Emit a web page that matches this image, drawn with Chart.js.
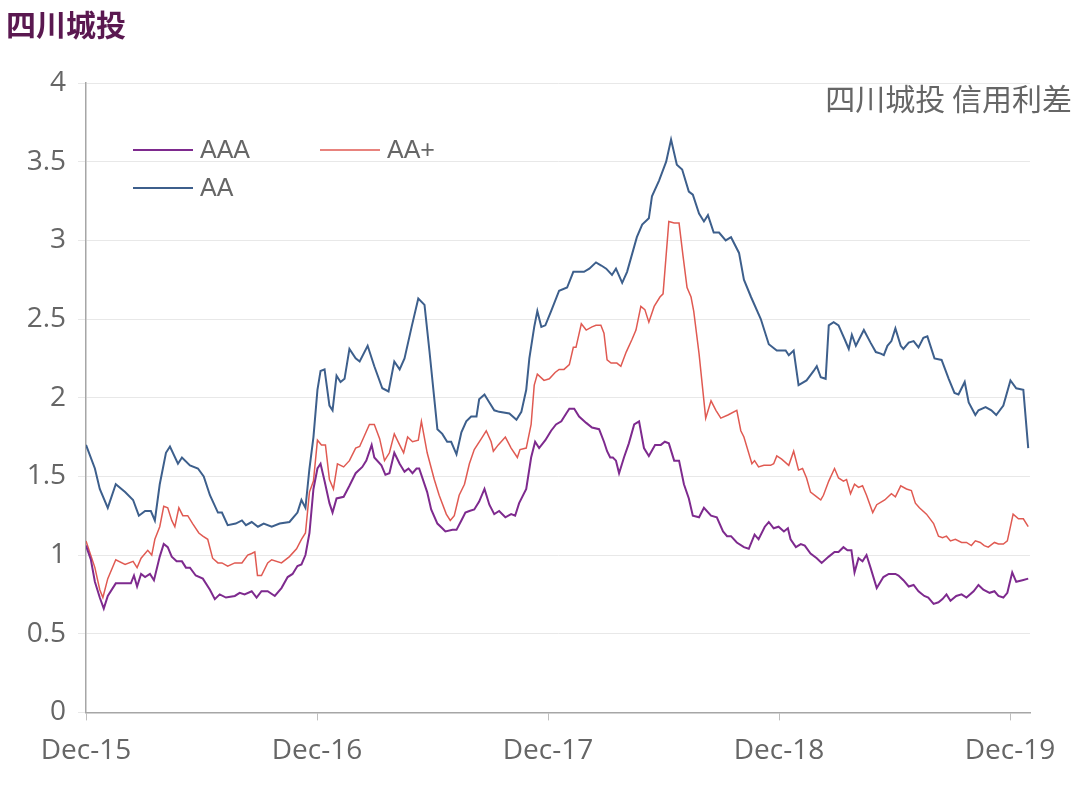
<!DOCTYPE html>
<html><head><meta charset="utf-8">
<script src="https://cdn.jsdelivr.net/npm/chart.js@4"></script>
<style>
body{margin:0;background:#fff;width:1080px;height:790px;overflow:hidden;font-family:"Noto Sans CJK SC","Noto Sans",sans-serif}
#t{position:absolute;left:6px;top:1px;font-size:30px;font-weight:bold;color:#5a1850}
#wrap{position:absolute;left:0;top:0;width:1080px;height:790px}
</style></head><body>
<div id="wrap"><canvas id="c" width="1080" height="790"></canvas></div>
<div id="t">四川城投</div>
<script>
const xTickWeeks=[0,52,104,156,208];
const xTickLabels=["Dec-15","Dec-16","Dec-17","Dec-18","Dec-19"];
const seriesNames=["AAA","AA+","AA"];
const aaaWeeks=[0,1.1,2,3.1,4,4.9,6.7,8.8,10.1,10.8,11.5,12.4,13.3,14.4,15.3,16.6,17.5,18.4,19.3,20.4,21.6,22.5,23.4,24.7,26.3,27.9,29,30.1,31.5,33.5,34.6,35.7,37.3,38.4,39.5,40.9,42.5,44,45.4,46.5,47.6,48.5,49.4,50.3,51.2,52.1,52.8,53.7,54.8,55.5,56.4,58,59.3,60.7,62.2,63.1,64.3,64.9,66.5,67.4,68.3,69.4,70.6,71.7,72.6,73.5,74.4,75,76.8,77.7,79.1,80.2,80.9,82.5,83.4,84.5,85.4,86.3,87.4,88.5,89.7,90.8,91.9,93,94.4,95.7,96.6,97.5,99.1,100.2,101.1,102,103.4,104.7,105.8,107,108.1,108.8,109.9,111,112.6,113.9,115.5,116.6,117.3,118,118.6,119.3,120,121.1,122.2,123.4,124.5,125.6,126.7,128.1,129.4,130.3,131.2,132.4,133.5,134.6,135.7,136.6,138,139.1,140.7,142,143.4,144.3,145.2,146.5,148.1,149.2,150.5,151.4,152.8,153.7,154.8,155.9,157.1,158,158.6,159.8,160.9,161.8,163.1,164.5,165.6,167.2,168.5,169.4,170.5,171.4,172.3,173,173.9,174.8,175.7,176.6,178,179.5,180.7,182.2,182.9,184,185.2,186.3,187.4,188.7,189.6,190.8,191.9,192.8,193.7,194.6,195.9,197.1,198.2,199.8,200.9,202,203.4,204.5,205.4,206.5,207.4,208.5,209.4,210.8,212.1];
const aaaValues=[1.06,0.97,0.83,0.73,0.66,0.74,0.82,0.82,0.82,0.87,0.80,0.88,0.86,0.88,0.84,0.99,1.07,1.05,0.99,0.96,0.96,0.92,0.92,0.87,0.85,0.78,0.72,0.75,0.73,0.74,0.76,0.75,0.77,0.73,0.77,0.77,0.74,0.79,0.86,0.88,0.93,0.94,1.00,1.14,1.42,1.55,1.58,1.47,1.33,1.27,1.36,1.37,1.44,1.52,1.56,1.60,1.70,1.62,1.57,1.51,1.52,1.65,1.58,1.53,1.55,1.52,1.55,1.55,1.40,1.29,1.20,1.17,1.15,1.16,1.16,1.22,1.27,1.28,1.29,1.34,1.42,1.32,1.26,1.28,1.24,1.26,1.25,1.33,1.42,1.62,1.72,1.68,1.73,1.79,1.83,1.85,1.90,1.93,1.93,1.88,1.84,1.81,1.80,1.72,1.66,1.62,1.62,1.60,1.52,1.62,1.71,1.83,1.85,1.68,1.63,1.70,1.70,1.72,1.71,1.60,1.60,1.45,1.36,1.25,1.24,1.30,1.25,1.24,1.15,1.12,1.12,1.08,1.05,1.04,1.13,1.10,1.18,1.21,1.17,1.18,1.15,1.17,1.10,1.05,1.07,1.06,1.01,0.98,0.95,0.99,1.02,1.02,1.05,1.03,1.03,0.89,0.98,0.96,1.00,0.92,0.79,0.86,0.88,0.88,0.87,0.84,0.80,0.81,0.77,0.74,0.73,0.69,0.70,0.72,0.75,0.71,0.74,0.75,0.73,0.77,0.81,0.78,0.76,0.77,0.74,0.73,0.76,0.89,0.83,0.84,0.85];
const aapWeeks=[0,2,3.1,3.8,4.9,6.7,8.8,10.6,11.5,12.4,13.9,14.8,15.5,16.6,17.5,18.4,19.3,20,20.9,21.8,22.9,24,25.4,26.3,27.4,28.5,29.7,30.6,31.9,33.5,35.1,36.4,37.3,38,38.6,39.5,40.9,41.8,44,45.8,47.4,48.5,49.4,50.3,51.2,52.1,53,53.9,54.8,55.7,56.6,58,59.3,60.7,61.6,62.7,63.8,64.9,66.1,67.2,68.3,69.4,70.6,71.5,72.4,73.5,74.8,75.5,76.8,78.4,79.5,81.1,82,82.9,84,85.2,86.3,87.4,89,90.1,91.2,91.7,92.8,94.4,95.7,97.1,97.7,99.1,100.2,100.9,101.6,103.1,104.3,105.6,106.5,107.6,108.8,109.7,110.3,111.5,112.6,113.9,114.8,115.9,116.6,117.3,118.2,119.5,120.4,121.6,122.9,123.8,124.9,125.8,126.7,127.9,129.2,129.9,131.2,132.4,133.5,134.4,135.3,136.2,136.8,138,139.5,140.7,141.8,142.9,144.5,146.5,147.4,148.1,149.9,150.5,151.4,152.6,154.1,154.8,155.5,156.6,158.2,159.3,160.4,161.3,162.2,163.1,164.5,165.4,166,167.2,168.5,169.4,170.5,171.2,172.1,173,173.9,174.8,175.7,177.1,178,179.8,181.3,182.2,183.4,184.7,185.8,186.7,187.6,189.2,190.8,191.9,192.8,193.7,194.6,195.7,197.1,198.2,199.3,200.2,201.3,202.2,203.1,204.5,205.4,206.5,207.4,208.7,209.9,211,212.1];
const aapValues=[1.09,0.92,0.78,0.73,0.85,0.97,0.94,0.96,0.92,0.98,1.03,1.00,1.10,1.18,1.31,1.30,1.22,1.18,1.30,1.25,1.25,1.20,1.14,1.12,1.10,0.98,0.95,0.95,0.93,0.95,0.95,1.00,1.01,1.02,0.87,0.87,0.95,0.97,0.95,0.99,1.04,1.10,1.14,1.40,1.47,1.73,1.70,1.70,1.48,1.42,1.58,1.56,1.60,1.68,1.69,1.76,1.83,1.83,1.74,1.60,1.65,1.77,1.70,1.65,1.75,1.72,1.73,1.85,1.65,1.48,1.38,1.26,1.22,1.25,1.38,1.45,1.58,1.67,1.74,1.79,1.72,1.66,1.70,1.75,1.68,1.62,1.67,1.68,1.83,2.08,2.15,2.11,2.12,2.16,2.18,2.18,2.21,2.32,2.32,2.47,2.43,2.45,2.46,2.46,2.41,2.24,2.22,2.22,2.20,2.29,2.37,2.43,2.58,2.56,2.48,2.58,2.64,2.66,3.12,3.11,3.11,2.90,2.70,2.64,2.55,2.28,1.87,1.98,1.92,1.87,1.89,1.92,1.79,1.75,1.58,1.60,1.56,1.57,1.57,1.58,1.63,1.61,1.57,1.66,1.54,1.55,1.49,1.40,1.37,1.35,1.38,1.47,1.55,1.49,1.47,1.48,1.39,1.45,1.43,1.44,1.38,1.27,1.32,1.35,1.39,1.37,1.44,1.42,1.41,1.33,1.30,1.26,1.20,1.12,1.11,1.12,1.09,1.10,1.08,1.08,1.06,1.09,1.08,1.06,1.05,1.08,1.07,1.07,1.09,1.26,1.23,1.23,1.18];
const aaWeeks=[0,2,3.1,4.9,6.7,8.8,10.6,11.9,13.3,14.6,15.5,16.6,18,18.9,20.7,21.6,23.4,25.2,26.5,27.9,29.7,30.6,31.9,33.7,35.1,36,37.3,38.7,40,41.8,43.6,45.8,47.6,48.5,49.4,50.3,51.2,52.1,52.8,53.7,54.8,55.5,56.4,57.3,58.2,59.3,60.7,61.6,63.4,64.9,66.7,68.1,69.4,70.6,71.7,73.3,74.8,76.2,77.3,79.1,80.2,81.3,82.2,83.4,84.5,85.6,86.7,87.9,88.5,89.7,90.8,91.9,93,95.3,96.9,98,99.1,99.8,100.9,101.6,102.5,103.4,104.7,106.5,108.3,109.7,111,112.1,113.3,114.8,116,117.1,118.4,119.3,120.7,121.8,124,125.2,126.7,127.4,129,130.6,131.7,133,134.2,135.7,136.6,138,139.1,140,141.3,142.5,144,145.2,147,148.1,149.7,151.9,153.7,155.5,157.5,158.2,159.3,160.4,162.2,163.8,164.5,165.4,166.5,167.2,168.3,169.4,170.8,171.7,172.4,173.3,175.1,176.6,177.8,178.9,179.6,180.4,181.3,182.2,183.4,184,185.2,186.3,187.4,188.5,189.4,191,192.6,194.2,195.5,196.4,197.8,198.7,200.2,200.9,202.5,203.8,204.9,206.5,208.1,209.4,211,212.1];
const aaValues=[1.70,1.55,1.42,1.30,1.45,1.40,1.35,1.25,1.28,1.28,1.22,1.45,1.65,1.69,1.58,1.62,1.57,1.55,1.50,1.38,1.27,1.27,1.19,1.20,1.22,1.19,1.21,1.18,1.20,1.18,1.20,1.21,1.27,1.35,1.30,1.55,1.75,2.05,2.17,2.18,1.95,1.92,2.14,2.10,2.12,2.31,2.25,2.23,2.33,2.20,2.06,2.04,2.23,2.18,2.25,2.45,2.63,2.59,2.30,1.80,1.77,1.72,1.72,1.64,1.78,1.85,1.88,1.88,1.99,2.02,1.97,1.92,1.91,1.90,1.86,1.91,2.05,2.25,2.45,2.55,2.45,2.46,2.55,2.68,2.70,2.80,2.80,2.80,2.82,2.86,2.84,2.82,2.78,2.82,2.73,2.80,3.02,3.10,3.14,3.28,3.38,3.50,3.64,3.48,3.45,3.31,3.29,3.17,3.12,3.16,3.05,3.05,3.00,3.02,2.92,2.75,2.64,2.50,2.34,2.30,2.30,2.27,2.30,2.08,2.11,2.17,2.20,2.13,2.12,2.46,2.48,2.46,2.37,2.31,2.40,2.33,2.43,2.35,2.29,2.28,2.27,2.33,2.36,2.44,2.33,2.31,2.35,2.36,2.32,2.38,2.39,2.25,2.24,2.12,2.03,2.02,2.10,1.97,1.89,1.92,1.94,1.92,1.89,1.95,2.11,2.06,2.05,1.68];
const colors=["#7e2a8e","#e05a52","#3d5f8c"];
const pts=(w,v)=>w.map((x,i)=>({x:x,y:v[i]}));
const legendPlugin={id:'lg',afterDraw(ch){const c=ch.ctx;c.save();c.font='25px "Liberation Sans", Arial';c.textBaseline='middle';
 const items=[[133,150,0,2],[320,150,1,1.5],[133,188,2,2]];
 items.forEach(([x,y,i,lw])=>{c.strokeStyle=colors[i];c.lineWidth=lw;c.beginPath();c.moveTo(x,y);c.lineTo(x+60,y);c.stroke();c.fillStyle='#666666';c.fillText(seriesNames[i],x+67,y+1);});
 c.font='30px "Noto Sans CJK SC"';c.textAlign='right';c.fillStyle='#666666';c.fillText('四川城投 信用利差',1072,99);c.restore();}};
new Chart(document.getElementById('c'),{type:'line',
 data:{datasets:[
  {label:seriesNames[0],data:pts(aaaWeeks,aaaValues),borderColor:colors[0],borderWidth:2},
  {label:seriesNames[1],data:pts(aapWeeks,aapValues),borderColor:colors[1],borderWidth:1.5},
  {label:seriesNames[2],data:pts(aaWeeks,aaValues),borderColor:colors[2],borderWidth:2}]},
 options:{responsive:false,animation:false,devicePixelRatio:1,
  elements:{point:{radius:0},line:{tension:0}},
  layout:{padding:{top:83,right:50,bottom:8,left:0}},
  plugins:{legend:{display:false},tooltip:{enabled:false}},
  scales:{
   x:{type:'linear',min:0,max:212.5,
    afterBuildTicks:a=>{a.ticks=xTickWeeks.map(v=>({value:v}));},
    ticks:{autoSkip:false,maxRotation:0,padding:14,color:'#666666',font:{size:28,family:'"Open Sans","Liberation Sans"'},callback:(v)=>xTickLabels[xTickWeeks.indexOf(v)]},
    grid:{display:true,drawOnChartArea:false,tickLength:8,color:'#bfbfbf'},border:{color:'#a6a6a6',width:1.5}},
   y:{min:0,max:4,afterFit:s=>{s.width=86;},
    ticks:{stepSize:0.5,padding:12,color:'#666666',font:{size:28,family:'"Open Sans","Liberation Sans"'},callback:v=>String(v)},
    grid:{color:'#e8e8e8',borderDash:[2,3],drawTicks:true,tickLength:8},border:{color:'#a6a6a6',width:1.5,dash:[]}}}},
 plugins:[legendPlugin]});
</script></body></html>
